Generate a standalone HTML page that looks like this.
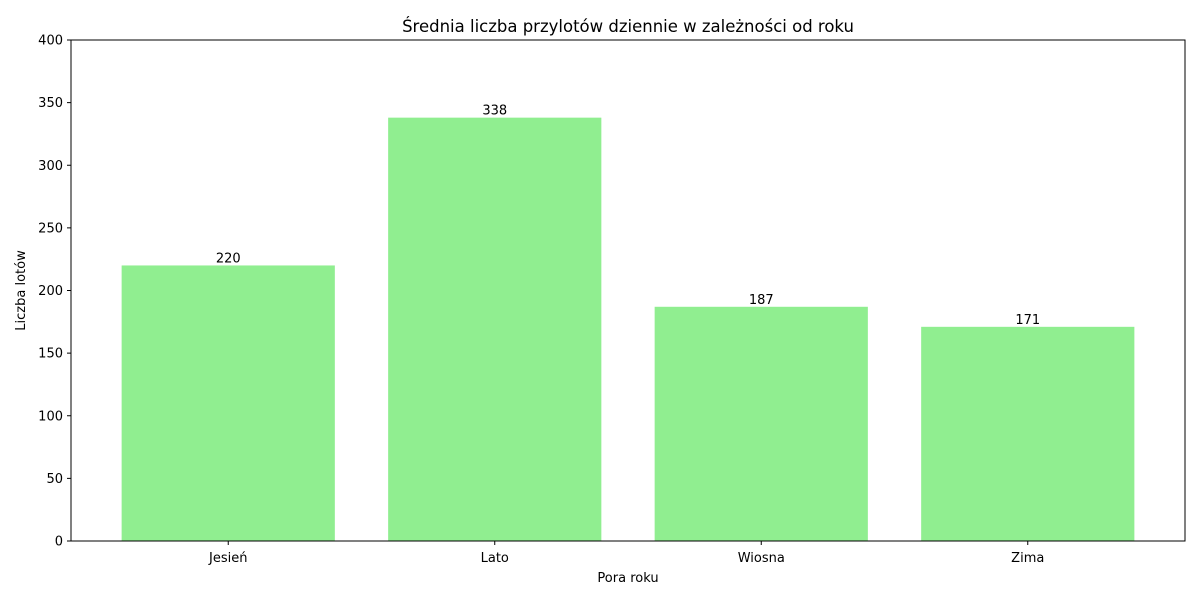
<!DOCTYPE html>
<html><head><meta charset="utf-8"><style>
body{margin:0;background:#fff;font-family:"DejaVu Sans","Liberation Sans",sans-serif;}
svg text{font-family:"DejaVu Sans","Liberation Sans",sans-serif;}
</style></head><body>
<svg id="chart" width="1200" height="600" xmlns="http://www.w3.org/2000/svg"></svg>
<script>
const categories=["Jesień","Lato","Wiosna","Zima"];
const values=[220,338,187,171];
const labels=["220","338","187","171"];
const yTicks=[0,50,100,150,200,250,300,350,400];
const L=71,R=1185,T=40,B=541,yMax=400,xMin=-0.59,xMax=3.59;
const sx=v=>L+(v-xMin)/(xMax-xMin)*(R-L);
const sy=v=>B-v/yMax*(B-T);
const svg=document.getElementById('chart');
const NS="http://www.w3.org/2000/svg";
function mk(tag,attrs,txt){const e=document.createElementNS(NS,tag);for(const k in attrs)e.setAttribute(k,attrs[k]);if(txt!==undefined)e.textContent=txt;svg.appendChild(e);return e;}
categories.forEach((c,i)=>{
  const r=mk('rect',{x:sx(i-0.4),y:sy(values[i]),width:sx(i+0.4)-sx(i-0.4),height:B-sy(values[i]),fill:'#90ee90'});
  
  
  const t=mk('text',{x:sx(i),y:sy(values[i])-3,'text-anchor':'middle','font-size':13,fill:'#000'},labels[i]);
  
  
  mk('line',{x1:sx(i),x2:sx(i),y1:B,y2:B+4,stroke:'#000'});
  const xl=mk('text',{x:sx(i),y:B+21,'text-anchor':'middle','font-size':13},c);
  
  
});
yTicks.forEach(v=>{
  mk('line',{x1:L-4,x2:L,y1:sy(v),y2:sy(v),stroke:'#000'});
  const yl=mk('text',{x:L-8,y:sy(v)+4.5,'text-anchor':'end','font-size':13},String(v));
  
  
});
const f=mk('rect',{x:L,y:T,width:R-L,height:B-T,fill:'none',stroke:'#000','stroke-width':1});


const ti=mk('text',{x:(L+R)/2,y:32,'text-anchor':'middle','font-size':16.5},'Średnia liczba przylotów dziennie w zależności od roku');


const xt=mk('text',{x:(L+R)/2,y:582,'text-anchor':'middle','font-size':13},'Pora roku');


const yt=mk('text',{x:25,y:(T+B)/2,'text-anchor':'middle','font-size':13,transform:`rotate(-90 25 ${(T+B)/2})`},'Liczba lotów');


</script>
</body></html>
